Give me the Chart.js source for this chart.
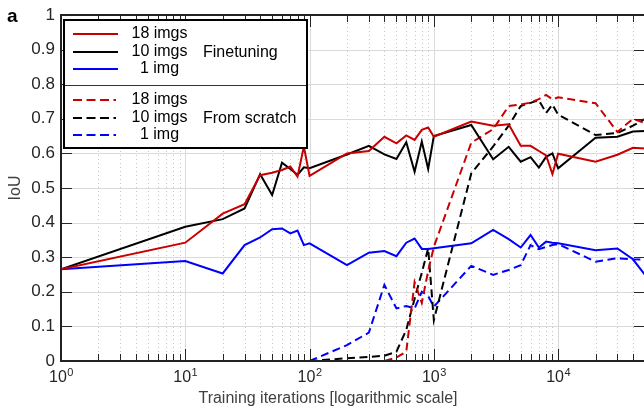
<!DOCTYPE html>
<html>
<head>
<meta charset="utf-8">
<script src="https://cdn.jsdelivr.net/npm/chart.js@4.4.1/dist/chart.umd.min.js"></script>
<style>
  html, body { margin: 0; padding: 0; background: #fff; overflow: hidden; }
  #wrap { width: 646px; height: 412px; }
</style>
</head>
<body>
<div id="wrap"><canvas id="grafica_iou" width="646" height="412"></canvas></div>
<script>
// iteraciones de entrenamiento (eje x, logaritmico)
const iteraciones = [1, 10, 20, 30, 40, 50, 60, 70, 80, 90,
  100, 200, 300, 400, 500, 600, 700, 800, 900,
  1000, 2000, 3000, 4000, 5000, 6000, 7000, 8000, 9000,
  10000, 20000, 30000, 40000, 50000];

// Finetuning
const ft18 = [0.265, 0.342, 0.426, 0.453, 0.537, 0.544, 0.552, 0.562, 0.533, 0.620,
  0.535, 0.600, 0.607, 0.648, 0.629, 0.652, 0.639, 0.668, 0.675,
  0.648, 0.692, 0.680, 0.684, 0.622, 0.622, 0.607, 0.594, 0.540,
  0.599, 0.576, 0.596, 0.616, 0.614];
const ft10 = [0.265, 0.388, 0.410, 0.441, 0.540, 0.480, 0.573, 0.555, 0.538, 0.560,
  0.557, 0.597, 0.622, 0.597, 0.584, 0.632, 0.547, 0.634, 0.555,
  0.650, 0.682, 0.583, 0.619, 0.576, 0.589, 0.559, 0.590, 0.600,
  0.557, 0.645, 0.648, 0.663, 0.665];
const ft1 = [0.265, 0.289, 0.253, 0.335, 0.357, 0.381, 0.383, 0.369, 0.377, 0.335,
  0.340, 0.277, 0.313, 0.318, 0.303, 0.342, 0.354, 0.324, 0.324,
  0.326, 0.340, 0.379, 0.352, 0.328, 0.364, 0.328, 0.345, 0.342,
  0.340, 0.320, 0.325, 0.294, 0.249];

// From scratch (empieza en 100 iteraciones)
const sc18 = [null, null, null, null, null, null, null, null, null, null,
  0.000, 0.000, 0.000, 0.000, 0.010, 0.027, 0.228, 0.168, 0.260,
  0.330, 0.631, 0.670, 0.737, 0.741, 0.747, 0.757, 0.769, 0.756,
  0.762, 0.745, 0.662, 0.700, 0.688];
const sc10 = [null, null, null, null, null, null, null, null, null, null,
  0.000, 0.008, 0.012, 0.015, 0.027, 0.090, 0.180, 0.255, 0.326,
  0.118, 0.542, 0.620, 0.680, 0.737, 0.746, 0.754, 0.717, 0.741,
  0.712, 0.653, 0.659, 0.680, 0.700];
const sc1 = [null, null, null, null, null, null, null, null, null, null,
  0.000, 0.046, 0.082, 0.220, 0.152, 0.159, 0.152, 0.200, 0.188,
  0.157, 0.275, 0.249, 0.263, 0.277, 0.335, 0.323, 0.330, 0.335,
  0.338, 0.287, 0.297, 0.294, 0.293];

const yTicks = [0, 0.1, 0.2, 0.3, 0.4, 0.5, 0.6, 0.7, 0.8, 0.9, 1];
const yTickLabels = ['0', '0.1', '0.2', '0.3', '0.4', '0.5', '0.6', '0.7', '0.8', '0.9', '1'];
const xDecadas = [1, 10, 100, 1000, 10000];
const xExponentes = ['0', '1', '2', '3', '4'];
const etiquetasLeyenda = ['18 imgs', '10 imgs', '1 img'];
const gruposLeyenda = ['Finetuning', 'From scratch'];

const ROJO = '#c80000', NEGRO = '#000000', AZUL = '#0000ff';
const DASH = [8, 4.5];
const FUENTE = '"Liberation Sans", Arial, Helvetica, sans-serif';
const X_MAX = 50000;

function puntos(valores) {
  return iteraciones.map((it, i) => ({ x: it, y: valores[i] })).filter(p => p.y !== null);
}

function serie(label, valores, color, dash) {
  return {
    label: label,
    data: puntos(valores),
    borderColor: color,
    borderWidth: 2,
    borderDash: dash,
    pointRadius: 0,
    tension: 0,
    fill: false
  };
}

const pluginEjes = {
  id: 'pluginEjes',
  beforeDatasetsDraw(chart) {
    const { ctx, chartArea: a, scales: { x, y } } = chart;
    ctx.save();
    ctx.lineWidth = 1;
    // rejilla menor punteada
    ctx.strokeStyle = '#c4c4c4';
    ctx.setLineDash([1, 3]);
    xDecadas.forEach(d => {
      for (let k = 2; k <= 9; k++) {
        const v = k * d;
        if (v > X_MAX) continue;
        const px = Math.round(x.getPixelForValue(v)) + 0.5;
        ctx.beginPath(); ctx.moveTo(px, a.top); ctx.lineTo(px, a.bottom); ctx.stroke();
      }
    });
    ctx.setLineDash([]);
    // rejilla mayor
    ctx.strokeStyle = '#dadada';
    xDecadas.slice(1).forEach(d => {
      const px = Math.round(x.getPixelForValue(d)) + 0.5;
      ctx.beginPath(); ctx.moveTo(px, a.top); ctx.lineTo(px, a.bottom); ctx.stroke();
    });
    yTicks.slice(1, -1).forEach(v => {
      const py = Math.round(y.getPixelForValue(v)) + 0.5;
      ctx.beginPath(); ctx.moveTo(a.left, py); ctx.lineTo(a.right, py); ctx.stroke();
    });
    ctx.restore();
  },
  afterDatasetsDraw(chart) {
    const { ctx, chartArea: a, scales: { x, y } } = chart;
    ctx.save();
    // marcas de los ejes
    ctx.strokeStyle = '#262626';
    ctx.lineWidth = 1;
    xDecadas.forEach(d => {
      for (let k = 1; k <= 9; k++) {
        const v = k * d;
        if (v > X_MAX) continue;
        const px = Math.round(x.getPixelForValue(v)) + 0.5;
        const len = k === 1 ? 12 : 7;
        ctx.beginPath();
        ctx.moveTo(px, a.bottom); ctx.lineTo(px, a.bottom - len);
        ctx.moveTo(px, a.top); ctx.lineTo(px, a.top + len);
        ctx.stroke();
      }
    });
    yTicks.forEach(v => {
      const py = Math.round(y.getPixelForValue(v)) + 0.5;
      ctx.beginPath();
      ctx.moveTo(a.left, py); ctx.lineTo(a.left + 11, py);
      ctx.moveTo(a.right, py); ctx.lineTo(a.right - 11, py);
      ctx.stroke();
    });
    // marco
    ctx.lineWidth = 2;
    ctx.strokeStyle = '#222';
    ctx.strokeRect(a.left, a.top, a.right - a.left, a.bottom - a.top);

    // etiquetas eje y
    ctx.fillStyle = '#262626';
    ctx.font = '17px ' + FUENTE;
    ctx.textAlign = 'right';
    ctx.textBaseline = 'middle';
    yTicks.forEach((v, i) => {
      ctx.fillText(yTickLabels[i], a.left - 6, y.getPixelForValue(v));
    });
    // etiquetas eje x (10^n)
    ctx.textAlign = 'left';
    ctx.textBaseline = 'alphabetic';
    xDecadas.forEach((d, i) => {
      const px = x.getPixelForValue(d);
      ctx.font = '16px ' + FUENTE;
      const wBase = ctx.measureText('10').width;
      ctx.font = '11px ' + FUENTE;
      const wExp = ctx.measureText(xExponentes[i]).width;
      const x0 = px - (wBase + wExp) / 2;
      ctx.font = '16px ' + FUENTE;
      ctx.fillText('10', x0, a.bottom + 21);
      ctx.font = '11px ' + FUENTE;
      ctx.fillText(xExponentes[i], x0 + wBase + 0.5, a.bottom + 15);
    });
    // titulos
    ctx.fillStyle = '#404040';
    ctx.font = '16px ' + FUENTE;
    ctx.textAlign = 'center';
    ctx.fillText('Training iterations [logarithmic scale]', 328, 403);
    ctx.save();
    ctx.translate(20, (a.top + a.bottom) / 2);
    ctx.rotate(-Math.PI / 2);
    ctx.fillText('IoU', 0, 0);
    ctx.restore();
    ctx.fillStyle = '#000';
    ctx.font = 'bold 19px ' + FUENTE;
    ctx.textAlign = 'left';
    ctx.fillText('a', 7, 22);

    // leyenda
    const lx = 64, ly = 20, lw = 243, lh = 128;
    ctx.fillStyle = '#fff';
    ctx.fillRect(lx, ly, lw, lh);
    ctx.lineWidth = 1;
    ctx.strokeStyle = '#333';
    ctx.beginPath(); ctx.moveTo(lx, 85.5); ctx.lineTo(lx + lw, 85.5); ctx.stroke();
    ctx.lineWidth = 2;
    ctx.strokeStyle = '#000';
    ctx.strokeRect(lx, ly, lw, lh);

    const colores = [ROJO, NEGRO, AZUL];
    const filasY = [[34, 52, 69], [100, 118, 135]];
    ctx.font = '16px ' + FUENTE;
    ctx.textBaseline = 'middle';
    filasY.forEach((fila, g) => {
      fila.forEach((fy, i) => {
        ctx.strokeStyle = colores[i];
        ctx.lineWidth = 2;
        ctx.setLineDash(g === 0 ? [] : [9, 4.5]);
        ctx.beginPath();
        ctx.moveTo(73, fy); ctx.lineTo(g === 0 ? 118 : 116, fy);
        ctx.stroke();
        ctx.setLineDash([]);
        ctx.fillStyle = '#000';
        ctx.textAlign = 'center';
        ctx.fillText(etiquetasLeyenda[i], 159.5, fy);
      });
      ctx.textAlign = 'left';
      ctx.fillText(gruposLeyenda[g], 203, fila[1] + 1);
    });
    ctx.restore();
  }
};

const ctx = document.getElementById('grafica_iou').getContext('2d');
const chartIoU = new Chart(ctx, {
  type: 'line',
  data: {
    datasets: [
      serie('18 imgs finetuning', ft18, ROJO, []),
      serie('10 imgs finetuning', ft10, NEGRO, []),
      serie('1 img finetuning', ft1, AZUL, []),
      serie('18 imgs from scratch', sc18, ROJO, DASH),
      serie('10 imgs from scratch', sc10, NEGRO, DASH),
      serie('1 img from scratch', sc1, AZUL, DASH)
    ]
  },
  options: {
    responsive: false,
    devicePixelRatio: 1,
    animation: false,
    layout: { padding: { left: 61, top: 15, right: 1, bottom: 51 } },
    scales: {
      x: { type: 'logarithmic', min: 1, max: X_MAX, display: false },
      y: { type: 'linear', min: 0, max: 1, display: false }
    },
    plugins: {
      legend: { display: false },
      tooltip: { enabled: false }
    }
  },
  plugins: [pluginEjes]
});
</script>
</body>
</html>
